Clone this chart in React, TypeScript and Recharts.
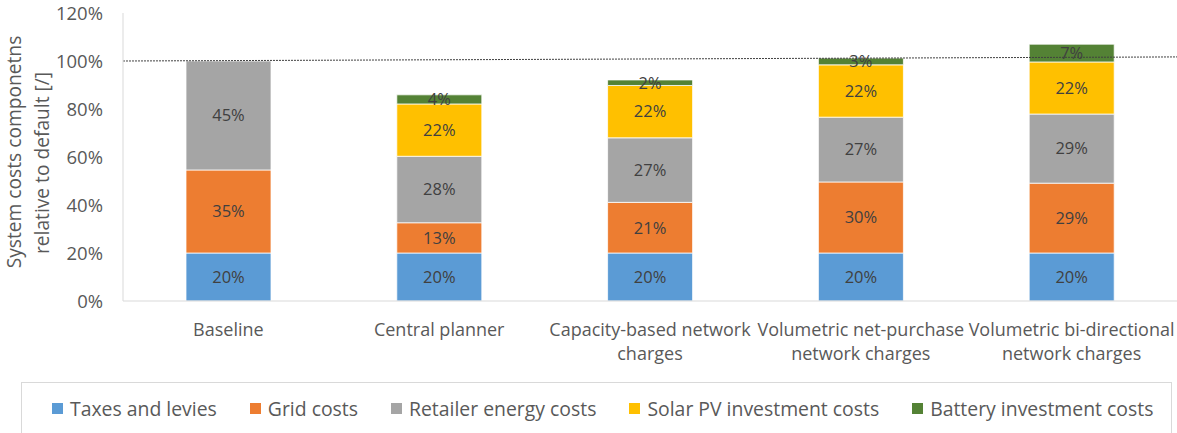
import { BarChart, Bar, XAxis, YAxis, LabelList, ReferenceLine, Label } from 'recharts';

const categories = [
  'Baseline',
  'Central planner',
  'Capacity-based network charges',
  'Volumetric net-purchase network charges',
  'Volumetric bi-directional network charges',
];

// shares of the default system cost, in %
const taxes = [20, 20, 20, 20, 20];
const grid = [34.6, 12.6, 21.1, 29.6, 29.1];
const retailer = [45.4, 27.7, 26.9, 27.0, 28.8];
const solar = [0, 21.8, 21.8, 21.8, 21.7];
const battery = [0, 3.8, 2.3, 2.8, 7.4];

const yTicks = [0, 20, 40, 60, 80, 100, 120];

const SERIES = [
  { key: 'taxes', name: 'Taxes and levies', color: '#5B9BD5' },
  { key: 'grid', name: 'Grid costs', color: '#ED7D31' },
  { key: 'retailer', name: 'Retailer energy costs', color: '#A5A5A5' },
  { key: 'solar', name: 'Solar PV investment costs', color: '#FFC000' },
  { key: 'battery', name: 'Battery investment costs', color: '#548235' },
];

const data = categories.map((name, i) => ({
  name,
  taxes: taxes[i],
  grid: grid[i],
  retailer: retailer[i],
  solar: solar[i],
  battery: battery[i],
}));

const FONT = '"Open Sans", "Segoe UI", sans-serif';
const TEXT = '#595959';

const wrap = (text: string, max: number) => {
  const lines: string[] = [];
  let cur = '';
  text.split(' ').forEach((w) => {
    const next = cur ? cur + ' ' + w : w;
    if (next.length > max && cur) {
      lines.push(cur);
      cur = w;
    } else {
      cur = next;
    }
  });
  if (cur) lines.push(cur);
  return lines;
};

const CategoryTick = (props: any) => {
  const { x, y, payload } = props;
  const lines = wrap(String(payload.value), 25);
  return (
    <g>
      {lines.map((line, i) => (
        <text
          key={i}
          x={x}
          y={y + 20 + i * 24}
          textAnchor="middle"
          dominantBaseline="central"
          fill={TEXT}
          fontSize={18}
          fontFamily={FONT}
        >
          {line}
        </text>
      ))}
    </g>
  );
};

const YTitle = () => (
  <g fill={TEXT} fontSize={19.2} fontFamily={FONT}>
    <text x={13} y={152} transform="rotate(-90 13 152)" textAnchor="middle" dominantBaseline="central">
      System costs componetns
    </text>
    <text x={41} y={163} transform="rotate(-90 41 163)" textAnchor="middle" dominantBaseline="central">
      relative to default [/]
    </text>
  </g>
);

const pct = (v: any) => {
  const n = Number(v);
  return n > 0 ? `${Math.round(n)}%` : '';
};

export default function App() {
  return (
    <div style={{ position: 'relative', width: 1177, height: 433, background: '#fff', overflow: 'hidden' }}>
      <style>{'body{margin:0}'}</style>
      <BarChart
        width={1177}
        height={380}
        data={data}
        margin={{ top: 13, right: 0, bottom: 19, left: 0 }}
        barSize={85}
      >
        <XAxis
          dataKey="name"
          height={60}
          axisLine={{ stroke: '#D9D9D9' }}
          tickLine={false}
          tick={<CategoryTick />}
          interval={0}
        />
        <XAxis xAxisId="ref" type="number" domain={[0, 4]} allowDataOverflow hide />
        <YAxis
          width={123}
          domain={[0, 120]}
          ticks={yTicks}
          tickFormatter={(v) => `${v}%`}
          axisLine={{ stroke: '#D9D9D9' }}
          tickLine={false}
          tickSize={8}
          tickMargin={12}
          tick={{ fill: TEXT, fontSize: 18.5, fontFamily: FONT }}
          interval={0}
        >
          <Label content={<YTitle />} />
        </YAxis>
        {SERIES.map((s) => (
          <Bar
            key={s.key}
            dataKey={s.key}
            name={s.name}
            stackId="a"
            fill={s.color}
            stroke="#FFFFFF"
            strokeWidth={0.75}
            isAnimationActive={false}
          >
            <LabelList
              dataKey={s.key}
              position="center"
              formatter={pct}
              fill="#404040"
              fontSize={16.5}
              fontFamily={FONT}
            />
          </Bar>
        ))}
        <ReferenceLine
          xAxisId="ref"
          segment={[{ x: 0, y: 100 }, { x: 4, y: 101.7 }]}
          stroke="#404040"
          strokeDasharray="2 1"
          strokeWidth={1}
        />
      </BarChart>
      <div
        style={{
          position: 'absolute',
          left: 21,
          top: 382,
          width: 1151,
          height: 60,
          border: '1px solid #D9D9D9',
          boxSizing: 'border-box',
          display: 'flex',
          alignItems: 'flex-start',
          paddingTop: 12,
          paddingLeft: 30,
          fontFamily: FONT,
          fontSize: 19.4,
          color: TEXT,
        }}
      >
        {SERIES.map((s) => (
          <div key={s.key} style={{ display: 'flex', alignItems: 'center', marginRight: 33, whiteSpace: 'nowrap' }}>
            <span style={{ display: 'inline-block', width: 11, height: 11, background: s.color, marginRight: 7 }} />
            <span>{s.name}</span>
          </div>
        ))}
      </div>
    </div>
  );
}
